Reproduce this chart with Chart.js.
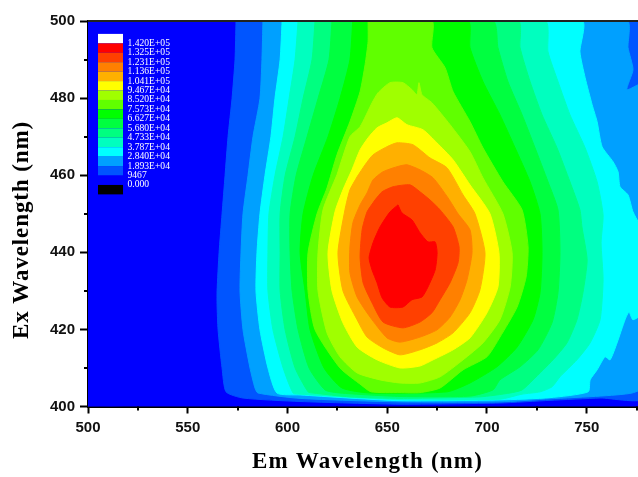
<!DOCTYPE html>
<html>
<head>
<meta charset="utf-8">
<style>
  html, body { margin: 0; padding: 0; background: #fff; overflow: hidden; }
  canvas { display: block; }
</style>
<script src="https://cdn.jsdelivr.net/npm/chart.js@4"></script>
</head>
<body>
<canvas id="contourChart" width="638" height="477"></canvas>
<script>
// Filled contour outlines, as [em, ex] in nm
const levelBase = [[500,400],[780,400],[780,500],[500,500]];
const level9467 = [[574.2,500],[573.7,490],[572.2,479.9],[570.2,470],[568.7,459.9],[567.2,450],[565.7,439.9],[564.7,430],[564.7,426.4],[565.2,419.9],[567.2,410],[569.2,403.8],[577.7,402.2],[606.3,401.3],[656.4,400.6],[706.5,400.9],[731.6,401.6],[756.7,402.2],[780,402.5],[780,500]];
const level18930 = [[587.7,500],[587.2,490],[586.2,479.9],[582.7,470],[580.2,459.9],[577.7,450],[576.7,439.9],[576.2,430],[577.7,419.9],[581.2,410],[583.7,404.8],[585.2,403.5],[606.3,402.1],[656.4,401.2],[706.5,401.2],[731.6,402],[756.7,402.7],[772.7,403.5],[780,405.6],[780,484],[770.2,482.2],[773.2,487.4],[770.7,493.1],[770.2,500]];
const level28400 = [[597.3,500],[596.3,490],[593.7,479.9],[591.7,470],[588.7,459.9],[586.2,450],[584.7,439.9],[584.2,430],[586.2,419.9],[590.2,410],[594.7,403.5],[606.3,403],[656.4,401.5],[706.5,401.7],[731.6,402.3],[750.7,403.8],[751.7,406.9],[755.2,409.5],[759.2,412.9],[761.7,412.1],[765.2,416.5],[769.2,422.5],[771.2,424.5],[773.2,422.5],[780,425.1],[780,443.2],[773.2,450.5],[770.7,454.9],[766.7,457],[765.7,460.9],[763.2,463.5],[757.7,467.4],[755.2,473.9],[752.7,478.3],[749.2,485.3],[746.6,492],[747.6,500]];
const level37870 = [[605.3,500],[603.8,490],[600.8,479.9],[597.8,470],[593.7,459.9],[590.7,450],[590.2,439.9],[590.2,430],[592.7,419.9],[597.8,410],[602.8,403.5],[606.3,403.2],[656.4,401.8],[706.5,401.9],[717.6,403.2],[726.6,403.8],[732.6,405.1],[736.6,407.7],[745.1,412.1],[751.7,416.5],[756.7,422.5],[758.2,432.9],[757.2,442.5],[758.2,449.7],[755.2,458.3],[749.2,467.1],[741.6,475.7],[735.6,484.3],[730.6,492],[729.1,500]];
const level47330 = [[613.8,500],[612.3,490],[607.8,479.9],[603.8,470],[598.8,459.9],[596.3,450],[596.3,439.9],[596.3,430],[598.8,419.9],[603.8,410],[610.3,403.8],[612.8,403.5],[631.3,402.5],[656.4,402.1],[696.5,402.5],[711.6,403.5],[717.6,404.3],[723.1,406.9],[733.1,412.1],[740.1,416.5],[745.1,422.5],[748.1,429.5],[750.2,438],[747.6,446.6],[746.6,451],[741.6,458.3],[735.1,467.1],[727.6,475.7],[721.6,484.3],[716.6,493.1],[715.6,500]];
const level56800 = [[622.3,500],[620.8,490],[615.3,479.9],[609.8,470],[604.3,459.9],[601.3,450],[601.3,439.9],[602.3,430],[605.3,419.9],[610.8,410],[618.8,404.3],[626.3,403.5],[656.4,402.6],[691.5,402.7],[703,404.3],[706.5,406.9],[716.6,410.3],[725.6,414.7],[732.6,421.7],[735.6,429.5],[736.6,439.9],[735.6,451],[730.6,458.3],[724.1,467.1],[717.6,475.7],[710.5,484.3],[705.5,493.1],[703,500]];
const level66270 = [[632.7,500],[631.3,490],[626.3,479.9],[620.3,470],[612.8,459.9],[607.8,450],[606.3,439.9],[608.8,430],[611.3,419.9],[618.3,410],[627.3,404.8],[641.4,403.5],[680,403.8],[691.5,406.1],[705,410.3],[715.1,415.4],[723.1,422.5],[726.6,429.5],[727.6,439.9],[726.6,450],[721.6,458.3],[714.1,467.1],[706.5,475.7],[698,484.3],[691.5,493.1],[690.5,500]];
const level75730 = [[640.4,500],[640.4,494.7],[638.9,488.7],[636.4,481.7],[631.3,473.9],[624.8,465.3],[619.8,456.7],[614.8,450],[610.3,439.9],[610.3,430],[613.8,419.9],[626.3,410],[636.9,405.6],[641.9,403.8],[656.4,403.6],[666.4,403.6],[676.5,404.8],[688,409.5],[700,412.9],[706.5,418],[715.1,425.8],[719.6,433.6],[720.6,441.4],[717.6,451],[708,458.3],[698,467.1],[691.5,473.9],[683,481.7],[679,487.9],[672.4,493.1],[672.4,500]];
const level85200 = [[624.8,460.1],[631.3,470],[636.4,472.6],[642.4,478.8],[645.4,481.4],[651.4,484],[657.9,484],[662.4,482.2],[664.9,480.9],[665.9,484],[667.4,480.9],[672.4,478.8],[681.5,473.1],[691.5,466.1],[698,459.3],[708,450],[712.6,439.9],[711.6,431],[706.5,422.5],[698,416.5],[688,412.1],[676.5,407.7],[666.4,406.1],[656.4,406.1],[646.4,406.9],[634.9,408.7],[626.3,412.9],[619.8,419.1],[615.3,430],[615.3,439.9],[617.8,451]];
const level94670 = [[632.3,461.4],[636.4,466.6],[640.4,469.7],[644.9,472.3],[649.9,473.6],[654.9,474.9],[659.9,473.1],[667.9,471.8],[674.9,468.4],[683,464],[691.5,457.5],[701.5,450],[706,439.9],[705.5,431],[700,424.3],[691.5,417.8],[683,414.7],[673,412.1],[666.4,410.5],[656.4,410],[644.9,412.1],[634.9,415.4],[627.8,421.7],[622.3,430],[620.3,439.9],[623.8,450.5],[627.8,456.2]];
const level104100 = [[634.9,459.6],[638.9,462.7],[642.9,465.3],[649.9,467.4],[654.9,468.4],[662.9,467.9],[671.4,464.5],[680,461.9],[688,454.9],[694,450],[699,439.9],[696.5,430.3],[691.5,424.3],[683,419.1],[675,416.5],[666.4,414.7],[656.4,413.4],[647.9,415.2],[639.9,418],[634.9,422.5],[627.8,430],[625.3,439.9],[628.8,451],[631.3,456.2]];
const level113600 = [[639.9,455.4],[642.9,458.8],[647.9,460.9],[654.9,462.2],[659.9,462.7],[666.4,461.4],[673,459.3],[680.5,454.1],[685.5,450],[691.5,445.8],[692.5,439.9],[690,432.9],[686.5,427.7],[681.5,423.2],[675,419.9],[666.4,418],[656.4,416.7],[649.9,417.8],[641.4,423.2],[634.9,428.4],[631.3,434.7],[631.3,441.4],[632.8,447.7],[636.4,452.3]];
const level123100 = [[643.9,453.6],[647.4,455.7],[652.9,457],[661.4,457.5],[666.4,455.7],[671.4,453.6],[676.5,451],[683,446.6],[686,441.4],[685.5,437.3],[681.5,432.1],[676.5,427.7],[672.4,424.3],[666.4,421.9],[657.9,420.4],[647.9,421.9],[642.4,426.9],[637.9,432.1],[636.4,438.8],[637.4,445.8],[639.9,450.5]];
const level132500 = [[655.4,452.3],[657.4,450.2],[662.4,448.4],[666.4,445.1],[670.4,442.7],[674,442.7],[675,439.9],[674,435.4],[670.4,431],[667.4,428.4],[662.4,427.7],[657.9,425.8],[651.4,425.8],[647.4,428.2],[644.9,432.1],[642.4,435.4],[640.9,438.6],[642.9,442.5],[646.4,446.6],[651.4,450.5]];

// highest level first, Chart.js paints the first dataset last
const contourLevels = [level132500, level123100, level113600, level104100, level94670, level85200, level75730, level66270, level56800, level47330, level37870, level28400, level18930, level9467, levelBase];
const contourColors = ["#ff0000", "#ff4000", "#ff8000", "#ffb000", "#ffff00", "#a0ff00", "#60ff00", "#00ff00", "#00ff40", "#00ff80", "#00ffbf", "#00ffff", "#00a0ff", "#0055ff", "#0000ff"];

const legendColors = ["#ffffff", "#ff0000", "#ff4000", "#ff8000", "#ffb000", "#ffff00", "#a0ff00", "#60ff00", "#00ff00", "#00ff40", "#00ff80", "#00ffbf", "#00ffff", "#00a0ff", "#0055ff", "#0000ff", "#000000"];
const legendLabels = ["1.420E+05", "1.325E+05", "1.231E+05", "1.136E+05", "1.041E+05", "9.467E+04", "8.520E+04", "7.573E+04", "6.627E+04", "5.680E+04", "4.733E+04", "3.787E+04", "2.840E+04", "1.893E+04", "9467", "0.000"];

const minorEm = [525, 575, 625, 675, 725, 775];
const minorEx = [410, 430, 450, 470, 490];

// colour key, minor ticks, top frame line and axis titles
const extras = {
  id: "extras",
  afterDraw(chart) {
    const ctx = chart.ctx;
    const area = chart.chartArea;
    const x = chart.scales.x;
    const y = chart.scales.y;
    ctx.save();

    ctx.fillStyle = "#000";
    minorEm.forEach((v) => ctx.fillRect(Math.round(x.getPixelForValue(v)) - 1, area.bottom, 2, 4));
    minorEx.forEach((v) => ctx.fillRect(area.left - 4, Math.round(y.getPixelForValue(v)) - 1, 4, 2));
    ctx.fillStyle = "#222";
    ctx.fillRect(area.left, area.top - 1, area.right - area.left, 2);

    legendColors.forEach((c, i) => {
      ctx.fillStyle = c;
      ctx.fillRect(98, 33.9 + i * 9.44, 25, 9.44);
    });
    ctx.fillStyle = "#fff";
    ctx.font = "9.6px 'Liberation Serif'";
    ctx.textBaseline = "middle";
    ctx.textAlign = "left";
    legendLabels.forEach((t, i) => ctx.fillText(t, 127.5, 43.3 + i * 9.44));

    ctx.fillStyle = "#000";
    ctx.font = "bold 23px 'Liberation Serif'";
    ctx.textAlign = "center";
    ctx.letterSpacing = "1.2px";
    ctx.fillText("Em Wavelength (nm)", 367.5, 462);
    ctx.translate(22, 230);
    ctx.rotate(-Math.PI / 2);
    ctx.letterSpacing = "0.9px";
    ctx.fillText("Ex Wavelength (nm)", 0, 0);
    ctx.restore();
  },
};

const tickFont = { family: "'Liberation Sans'", size: 15, weight: "bold" };

new Chart(document.getElementById("contourChart"), {
  type: "scatter",
  data: {
    datasets: contourLevels.map((outline, i) => ({
      data: outline.concat([outline[0]]).map((p) => ({ x: p[0], y: p[1] })),
      showLine: true,
      fill: "shape",
      backgroundColor: contourColors[i],
      borderColor: contourColors[i],
      borderWidth: 1,
      pointRadius: 0,
      tension: 0.2,
    })),
  },
  plugins: [extras],
  options: {
    responsive: false,
    animation: false,
    layout: { padding: { top: 21 } },
    plugins: { legend: { display: false }, tooltip: { enabled: false } },
    scales: {
      x: {
        type: "linear",
        min: 500,
        max: 775.7,
        afterFit(scale) { scale.height = 70.5; },
        border: { width: 2, color: "#000" },
        grid: { drawOnChartArea: false, tickLength: 7, tickWidth: 2, tickColor: "#000" },
        ticks: { stepSize: 50, includeBounds: false, autoSkip: false, maxRotation: 0, padding: 5, color: "#111", font: tickFont },
      },
      y: {
        min: 400,
        max: 500,
        afterFit(scale) { scale.width = 88; },
        border: { width: 2, color: "#000" },
        grid: { drawOnChartArea: false, tickLength: 8, tickWidth: 2, tickColor: "#000" },
        ticks: { stepSize: 20, autoSkip: false, padding: 5, color: "#111", font: tickFont },
      },
    },
  },
});
</script>
</body>
</html>
